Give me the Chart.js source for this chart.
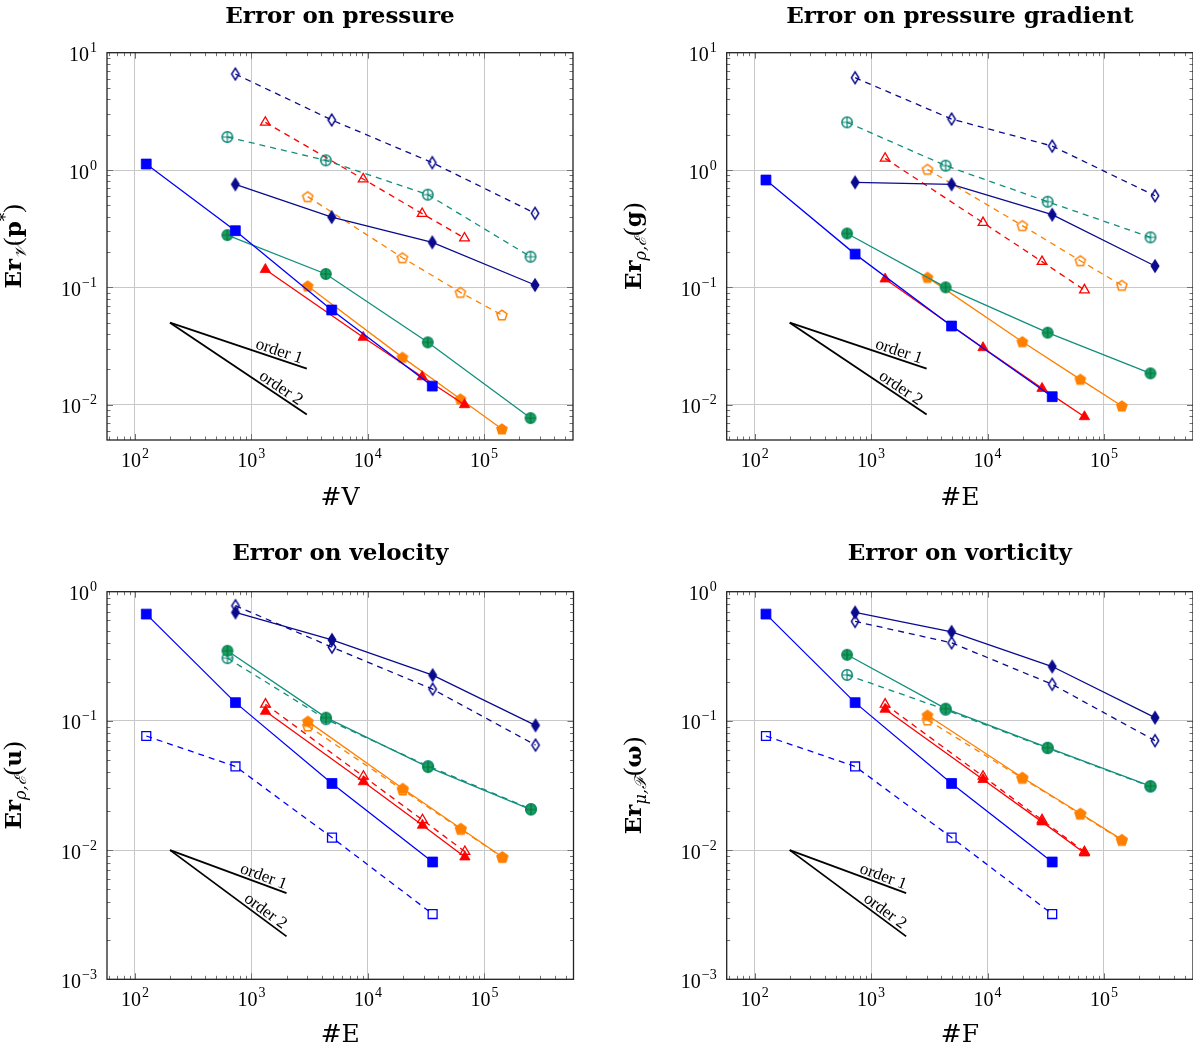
<!DOCTYPE html>
<html><head><meta charset="utf-8">
<script src="https://cdn.jsdelivr.net/npm/chart.js@4.4.0/dist/chart.umd.min.js"></script>
<style>
html,body{margin:0;padding:0;background:#fff;}
body{width:1193px;height:1052px;overflow:hidden;position:relative;}
canvas{position:absolute;}
</style></head><body>
<canvas id="c1" width="600" height="526" style="left:0;top:0"></canvas>
<canvas id="c2" width="620" height="526" style="left:600px;top:0"></canvas>
<canvas id="c3" width="600" height="526" style="left:0;top:526px"></canvas>
<canvas id="c4" width="620" height="526" style="left:600px;top:526px"></canvas>
<script>
// ---------------- data ----------------
const panelTitles = ['Error on pressure', 'Error on pressure gradient', 'Error on velocity', 'Error on vorticity'];
const xAxisTitles = ['#V', '#E', '#E', '#F'];
const tickBase = '10';
const xTickValues = [100, 1000, 10000, 100000];
const xTickExponents = ['2', '3', '4', '5'];
const yTickValuesTop = [0.01, 0.1, 1, 10];
const yTickExponentsTop = ['−2', '−1', '0', '1'];
const yTickValuesBottom = [0.001, 0.01, 0.1, 1];
const yTickExponentsBottom = ['−3', '−2', '−1', '0'];

// mesh sizes (x values)
const xBlue = [125, 729, 4913, 35937];
const xNavy = [729, 4913, 35937, 274625];
const xTeal = [622, 4370, 32850, 251000];
const xRed = [1320, 9150, 29400, 68000];
const xOrange = [3050, 19900, 62700, 142500];

// panel 1: error on pressure
const p1BlueSolid = [1.125, 0.304, 0.0641, 0.0144];
const p1NavySolid = [0.755, 0.397, 0.242, 0.1047];
const p1NavyDashed = [6.58, 2.67, 1.155, 0.428];
const p1TealSolid = [0.279, 0.130, 0.0340, 0.00769];
const p1TealDashed = [1.91, 1.21, 0.617, 0.1824];
const p1RedSolid = [0.142, 0.0375, 0.0173, 0.0100];
const p1RedDashed = [2.55, 0.838, 0.425, 0.263];
const p1OrangeSolid = [0.1026, 0.0253, 0.01117, 0.00621];
const p1OrangeDashed = [0.593, 0.179, 0.0906, 0.0581];

// panel 2: error on pressure gradient
const p2BlueSolid = [0.822, 0.192, 0.0468, 0.0117];
const p2NavySolid = [0.785, 0.755, 0.416, 0.152];
const p2NavyDashed = [6.12, 2.72, 1.60, 0.604];
const p2TealSolid = [0.288, 0.100, 0.0411, 0.0185];
const p2TealDashed = [2.55, 1.089, 0.537, 0.267];
const p2RedSolid = [0.1178, 0.0306, 0.01377, 0.0079];
const p2RedDashed = [1.257, 0.356, 0.1656, 0.0949];
const p2OrangeSolid = [0.1216, 0.0344, 0.01644, 0.00975];
const p2OrangeDashed = [1.013, 0.336, 0.1687, 0.104];

// panel 3: error on velocity
const p3BlueSolid = [0.671, 0.1385, 0.0328, 0.00809];
const p3BlueDashed = [0.0764, 0.0444, 0.0125, 0.0032];
const p3NavySolid = [0.691, 0.424, 0.226, 0.0924];
const p3NavyDashed = [0.779, 0.372, 0.176, 0.065];
const p3TealSolid = [0.349, 0.106, 0.0439, 0.0206];
const p3TealDashed = [0.306, 0.103, 0.0447, 0.0208];
const p3RedSolid = [0.1186, 0.0338, 0.01557, 0.00885];
const p3RedDashed = [0.1345, 0.0372, 0.01714, 0.00973];
const p3OrangeSolid = [0.0992, 0.0300, 0.01468, 0.00885];
const p3OrangeDashed = [0.0913, 0.0292, 0.0145, 0.0088];

// panel 4: error on vorticity
const p4BlueSolid = [0.671, 0.1385, 0.0328, 0.00809];
const p4BlueDashed = [0.0764, 0.0444, 0.0125, 0.0032];
const p4NavySolid = [0.691, 0.489, 0.2635, 0.106];
const p4NavyDashed = [0.589, 0.402, 0.192, 0.0703];
const p4TealSolid = [0.325, 0.1244, 0.062, 0.0313];
const p4TealDashed = [0.227, 0.122, 0.0615, 0.031];
const p4RedSolid = [0.123, 0.0352, 0.01653, 0.0095];
const p4RedDashed = [0.1345, 0.0372, 0.0171, 0.0097];
const p4OrangeSolid = [0.1105, 0.0365, 0.0192, 0.01205];
const p4OrangeDashed = [0.1016, 0.0360, 0.0190, 0.0119];

// slope reference triangles
const orderXTop = [200, 3000];
const order1Top = [0.05, 0.0203];
const order2Top = [0.05, 0.00823];
const orderXBottom = [200, 2000];
const order1Bottom = [0.01, 0.00464];
const order2Bottom = [0.01, 0.00215];
const orderLabels = ['order 1', 'order 2'];

// y-axis titles as rich segments: [text, kind]
const yTitle1 = [['Er', 'b'], ['𝒱', 'sub'], ['(', 'p'], ['p', 'b'], ['*', 'sup'], [')', 'p']];
const yTitle2 = [['Er', 'b'], ['ρ,ℰ', 'sub'], ['(', 'p'], ['g', 'b'], [')', 'p']];
const yTitle3 = [['Er', 'b'], ['ρ,ℰ', 'sub'], ['(', 'p'], ['u', 'b'], [')', 'p']];
const yTitle4 = [['Er', 'b'], ['μ,ℱ', 'sub'], ['(', 'p'], ['ω', 'b'], [')', 'p']];

// ---------------- styles ----------------
const C = {blue:'#0000ff', navy:'#0b0b8e', teal:'#118f7c', tealFill:'#16a35a', red:'#ff0000', orange:'#ff8000'};

function mkCanvas(w, h, draw){ const c = document.createElement('canvas'); c.width = w; c.height = h; draw(c.getContext('2d')); return c; }
function diamond(fill, stroke){ return mkCanvas(12, 16, g => { g.beginPath(); g.moveTo(6, 2.2); g.lineTo(9.7, 8); g.lineTo(6, 13.8); g.lineTo(2.3, 8); g.closePath(); if (fill){ g.fillStyle = fill; g.fill(); } g.lineWidth = 1.5; g.strokeStyle = stroke; g.stroke(); }); }
function oplus(fill, stroke, plus){ return mkCanvas(14, 14, g => { const r = 5.2; g.beginPath(); g.arc(7, 7, r, 0, Math.PI*2); if (fill){ g.fillStyle = fill; g.fill(); } g.lineWidth = 1.5; g.strokeStyle = stroke; g.stroke(); g.beginPath(); g.moveTo(7-r, 7); g.lineTo(7+r, 7); g.moveTo(7, 7-r); g.lineTo(7, 7+r); g.lineWidth = 1.2; g.strokeStyle = plus; g.stroke(); }); }
function pentagon(fill, stroke){ return mkCanvas(14, 14, g => { const R = 5.3; g.beginPath(); for (let k = 0; k < 5; k++){ const a = -Math.PI/2 + k*2*Math.PI/5; const px = 7 + R*Math.cos(a), py = 7.4 + R*Math.sin(a); if (k) g.lineTo(px, py); else g.moveTo(px, py); } g.closePath(); if (fill){ g.fillStyle = fill; g.fill(); } g.lineWidth = 1.5; g.strokeStyle = stroke; g.stroke(); }); }

const M = {
  navyFilled: diamond(C.navy, C.navy), navyOpen: diamond(null, C.navy),
  tealFilled: oplus(C.tealFill, '#0f8a60', '#0d7048'), tealOpen: oplus(null, '#0a8573', '#0a8573'),
  orangeFilled: pentagon(C.orange, C.orange), orangeOpen: pentagon(null, C.orange)
};

function series(xs, ys, color, dashed, marker){
  const d = { data: xs.map((x, i) => ({x: x, y: ys[i]})), showLine: true, borderColor: color, borderWidth: 1.3,
    borderDash: dashed ? [6, 5] : [], tension: 0, pointBorderWidth: 1.3, pointHoverRadius: 0 };
  if (marker === 'squareFilled'){ Object.assign(d, {pointStyle:'rect', pointRadius:7, pointBackgroundColor:color, pointBorderColor:color, pointBorderWidth:0.8}); }
  else if (marker === 'squareOpen'){ Object.assign(d, {pointStyle:'rect', pointRadius:6.3, pointBackgroundColor:'rgba(0,0,0,0)', pointBorderColor:color}); }
  else if (marker === 'triFilled'){ Object.assign(d, {pointStyle:'triangle', pointRadius:6, pointBackgroundColor:color, pointBorderColor:color, pointBorderWidth:0.8}); }
  else if (marker === 'triOpen'){ Object.assign(d, {pointStyle:'triangle', pointRadius:5.6, pointBackgroundColor:'rgba(0,0,0,0)', pointBorderColor:color}); }
  else { Object.assign(d, {pointStyle: M[marker], pointRadius: 5}); }
  return d;
}
function refLine(xs, ys){ return { data: xs.map((x, i) => ({x: x, y: ys[i]})), showLine: true, borderColor: '#000', borderWidth: 1.8, pointRadius: 0, tension: 0, borderDash: [] }; }

function segFont(kind){
  if (kind === 'b') return 'bold 23px "DejaVu Serif"';
  if (kind === 'sub') return 'italic 16px "DejaVu Serif"';
  if (kind === 'sup') return '17px "DejaVu Serif"';
  return '26px "Liberation Serif"';
}
const BASE_FONT = '20px "Liberation Serif"';
const EXP_FONT = '14px "Liberation Serif"';

function powerLabel(ctx, exp, x, yBase, align){
  ctx.font = BASE_FONT; const wb = ctx.measureText(tickBase).width;
  ctx.font = EXP_FONT; const we = ctx.measureText(exp).width + 1;
  const left = align === 'right' ? x - wb - we : x - (wb + we) / 2;
  ctx.textAlign = 'left'; ctx.textBaseline = 'alphabetic';
  ctx.font = BASE_FONT; ctx.fillText(tickBase, left, yBase);
  ctx.font = EXP_FONT; ctx.fillText(exp, left + wb + 1, yBase - 9);
}

function panelPlugin(P){
  return {
    id: 'panelExtras',
    afterDraw(chart){
      const {ctx, chartArea: a, scales: {x, y}} = chart;
      ctx.save();
      // inner tick marks (pgfplots style)
      ctx.strokeStyle = '#707070'; ctx.lineWidth = 1;
      ctx.beginPath();
      for (let k = -4; k <= 6; k++){
        for (let m = 1; m <= 9; m++){
          const v = m * Math.pow(10, k); const len = m === 1 ? 6 : 3.5;
          if (v > x.min && v < x.max){ const px = Math.round(x.getPixelForValue(v)) + 0.5;
            ctx.moveTo(px, a.bottom); ctx.lineTo(px, a.bottom - len); ctx.moveTo(px, a.top); ctx.lineTo(px, a.top + len); }
          if (v > y.min && v < y.max){ const py = Math.round(y.getPixelForValue(v)) + 0.5;
            ctx.moveTo(a.left, py); ctx.lineTo(a.left + len, py); ctx.moveTo(a.right, py); ctx.lineTo(a.right - len, py); }
        }
      }
      ctx.stroke();
      // frame
      ctx.strokeStyle = '#222'; ctx.lineWidth = 1.3;
      ctx.strokeRect(a.left, a.top, a.right - a.left, a.bottom - a.top);
      // tick labels 10^k at the scale's tick positions
      ctx.fillStyle = '#000';
      x.ticks.forEach((t, i) => powerLabel(ctx, xTickExponents[i], x.getPixelForValue(t.value), a.bottom + 26.5, 'center'));
      y.ticks.forEach((t, i) => powerLabel(ctx, P.yExponents[i], a.left - 10, y.getPixelForValue(t.value) + 8.5, 'right'));
      // order labels, sloped above the reference lines
      ctx.font = '17px "Liberation Serif"'; ctx.textAlign = 'center'; ctx.textBaseline = 'alphabetic';
      P.orderLines.forEach((L, i) => {
        const x0 = x.getPixelForValue(L.xs[0]), y0 = y.getPixelForValue(L.ys[0]);
        const x1 = x.getPixelForValue(L.xs[1]), y1 = y.getPixelForValue(L.ys[1]);
        const t = 0.78; const px = x0 + t*(x1 - x0), py = y0 + t*(y1 - y0);
        ctx.save(); ctx.translate(px, py); ctx.rotate(Math.atan2(y1 - y0, x1 - x0));
        ctx.fillText(orderLabels[i], 0, -3); ctx.restore();
      });
      // rich y-axis title
      let total = 0;
      const segs = P.yTitle.map(s => { ctx.font = segFont(s[1]); const w = ctx.measureText(s[0]).width; total += w; return {t: s[0], k: s[1], w: w}; });
      ctx.translate(a.left - 86, (a.top + a.bottom) / 2); ctx.rotate(-Math.PI / 2);
      ctx.textAlign = 'left';
      let u = -total / 2;
      segs.forEach(s => { ctx.font = segFont(s.k); const dy = s.k === 'sub' ? 5 : (s.k === 'sup' ? -10 : 0); ctx.fillText(s.t, u, dy); u += s.w; });
      ctx.restore();
    }
  };
}

function makePanel(id, P){
  new Chart(document.getElementById(id), {
    type: 'scatter',
    data: { datasets: P.datasets },
    options: {
      responsive: false, animation: false, events: [],
      layout: { padding: { left: 0, right: P.padR, top: 0, bottom: 0 } },
      plugins: {
        legend: { display: false }, tooltip: { enabled: false },
        title: { display: true, text: P.title, fullSize: false, color: '#000',
          font: { family: 'DejaVu Serif', size: 23, weight: 'bold', lineHeight: 1.2 },
          padding: { top: P.titlePadTop, bottom: P.titlePadBottom } }
      },
      scales: {
        x: { type: 'logarithmic', min: 57.5, max: 582000, position: 'bottom',
          afterBuildTicks: s => { s.ticks = xTickValues.map(v => ({value: v})); },
          afterFit: s => { s.height = P.xH; },
          ticks: { display: false, autoSkip: false },
          grid: { color: '#c8c8c8', lineWidth: 1, drawTicks: false },
          border: { display: false },
          title: { display: true, text: P.xTitle, color: '#000', font: { family: 'DejaVu Serif', size: 25, lineHeight: 1.2 },
            padding: { top: 0, bottom: P.xTitlePadBottom } } },
        y: { type: 'logarithmic', min: P.yMin, max: P.yMax, position: 'left',
          afterBuildTicks: s => { s.ticks = P.yTicks.map(v => ({value: v})); },
          afterFit: s => { s.width = P.yW; },
          ticks: { display: false, autoSkip: false },
          grid: { color: '#c8c8c8', lineWidth: 1, drawTicks: false },
          border: { display: false } }
      }
    },
    plugins: [panelPlugin(P)]
  });
}

function panelSets(bs, bd, ns, nd, ts, td, rs, rd, os, od, oX, o1, o2){
  const list = [];
  list.push(series(xBlue, bs, C.blue, false, 'squareFilled'));
  if (bd) list.push(series(xBlue, bd, C.blue, true, 'squareOpen'));
  list.push(series(xNavy, ns, C.navy, false, 'navyFilled'));
  list.push(series(xTeal, ts, C.teal, false, 'tealFilled'));
  list.push(series(xRed, rs, C.red, false, 'triFilled'));
  list.push(series(xOrange, os, C.orange, false, 'orangeFilled'));
  list.push(series(xNavy, nd, C.navy, true, 'navyOpen'));
  list.push(series(xTeal, td, C.teal, true, 'tealOpen'));
  list.push(series(xRed, rd, C.red, true, 'triOpen'));
  list.push(series(xOrange, od, C.orange, true, 'orangeOpen'));
  list.push(refLine(oX, o1));
  list.push(refLine(oX, o2));
  return list;
}

makePanel('c1', { title: panelTitles[0], xTitle: xAxisTitles[0], yTitle: yTitle1,
  padR: 27, yW: 107, xH: 86, titlePadTop: 3, titlePadBottom: 22.1, xTitlePadBottom: 13,
  yMin: 0.005, yMax: 10, yTicks: yTickValuesTop, yExponents: yTickExponentsTop,
  orderLines: [{xs: orderXTop, ys: order1Top}, {xs: orderXTop, ys: order2Top}],
  datasets: panelSets(p1BlueSolid, null, p1NavySolid, p1NavyDashed, p1TealSolid, p1TealDashed, p1RedSolid, p1RedDashed, p1OrangeSolid, p1OrangeDashed, orderXTop, order1Top, order2Top) });

makePanel('c2', { title: panelTitles[1], xTitle: xAxisTitles[1], yTitle: yTitle2,
  padR: 27, yW: 126.7, xH: 86, titlePadTop: 3, titlePadBottom: 22.1, xTitlePadBottom: 13,
  yMin: 0.005, yMax: 10, yTicks: yTickValuesTop, yExponents: yTickExponentsTop,
  orderLines: [{xs: orderXTop, ys: order1Top}, {xs: orderXTop, ys: order2Top}],
  datasets: panelSets(p2BlueSolid, null, p2NavySolid, p2NavyDashed, p2TealSolid, p2TealDashed, p2RedSolid, p2RedDashed, p2OrangeSolid, p2OrangeDashed, orderXTop, order1Top, order2Top) });

makePanel('c3', { title: panelTitles[2], xTitle: xAxisTitles[2], yTitle: yTitle3,
  padR: 26.5, yW: 107, xH: 72.7, titlePadTop: 14, titlePadBottom: 24.1, xTitlePadBottom: 2,
  yMin: 0.001, yMax: 1, yTicks: yTickValuesBottom, yExponents: yTickExponentsBottom,
  orderLines: [{xs: orderXBottom, ys: order1Bottom}, {xs: orderXBottom, ys: order2Bottom}],
  datasets: panelSets(p3BlueSolid, p3BlueDashed, p3NavySolid, p3NavyDashed, p3TealSolid, p3TealDashed, p3RedSolid, p3RedDashed, p3OrangeSolid, p3OrangeDashed, orderXBottom, order1Bottom, order2Bottom) });

makePanel('c4', { title: panelTitles[3], xTitle: xAxisTitles[3], yTitle: yTitle4,
  padR: 27, yW: 126.7, xH: 72.7, titlePadTop: 14, titlePadBottom: 24.1, xTitlePadBottom: 2,
  yMin: 0.001, yMax: 1, yTicks: yTickValuesBottom, yExponents: yTickExponentsBottom,
  orderLines: [{xs: orderXBottom, ys: order1Bottom}, {xs: orderXBottom, ys: order2Bottom}],
  datasets: panelSets(p4BlueSolid, p4BlueDashed, p4NavySolid, p4NavyDashed, p4TealSolid, p4TealDashed, p4RedSolid, p4RedDashed, p4OrangeSolid, p4OrangeDashed, orderXBottom, order1Bottom, order2Bottom) });
</script>
</body></html>
